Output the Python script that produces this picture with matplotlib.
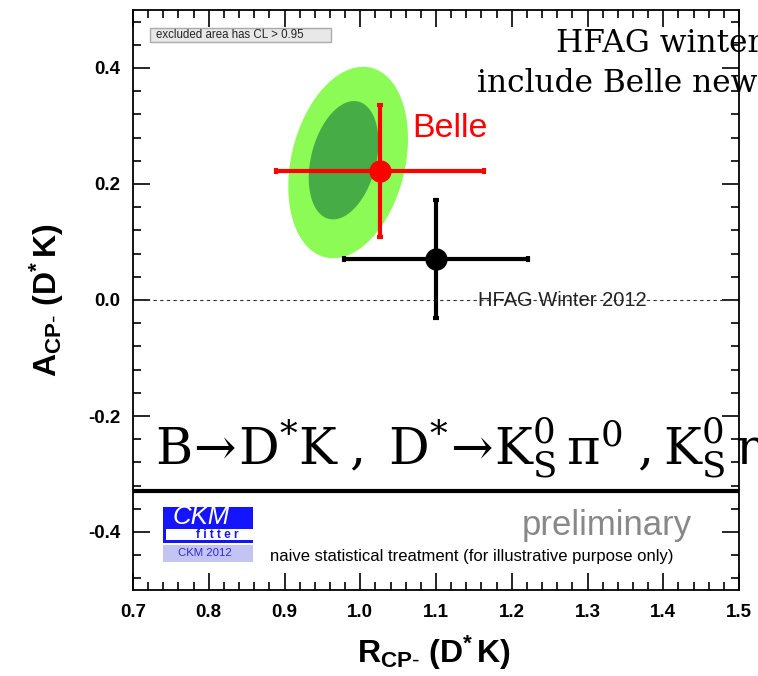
import numpy as np
import matplotlib.pyplot as plt
import matplotlib as mpl
from matplotlib.patches import Rectangle
from matplotlib.ticker import MultipleLocator

mpl.rc('font', family='Liberation Sans')
mpl.rc('axes', unicode_minus=False)
mpl.rc('mathtext', fontset='custom', rm='Liberation Sans',
       bf='Liberation Sans:bold', it='Liberation Sans:italic')

# measurements of R_CP- and A_CP- (symmetric errors)
belle_r, belle_r_err = 1.026, 0.137
belle_a, belle_a_err = 0.223, 0.114
hfag_r, hfag_r_err = 1.100, 0.122
hfag_a, hfag_a_err = 0.071, 0.102

# CL regions (95%, 68%): centre, half widths, correlation
cont_r0 = [0.984, 0.978]
cont_a0 = [0.237, 0.241]
cont_sr = [0.079, 0.046]
cont_sa = [0.165, 0.102]
cont_rho = [0.25, 0.30]
cont_colors = ['#8cfb55', '#46ad46']

sep_a = -0.33

W, H = 758, 676
fig = plt.figure(figsize=(W/100, H/100), dpi=100)
ax = fig.add_axes([133/W, 86/H, 606/W, 580/H])

t = np.linspace(0, 2*np.pi, 300)
for r0, a0, sr, sa, rho, c in zip(cont_r0, cont_a0, cont_sr, cont_sa, cont_rho, cont_colors):
    x = r0 + sr*np.cos(t)
    y = a0 + sa*(rho*np.cos(t) + np.sqrt(1 - rho**2)*np.sin(t))
    ax.fill(x, y, color=c, lw=0, zorder=1)

ax.axhline(0.0, color='#333333', lw=0.8, ls=(0, (3, 3)), zorder=2)
ax.axhline(sep_a, color='black', lw=3, zorder=2)

ax.errorbar(hfag_r, hfag_a, xerr=hfag_r_err, yerr=hfag_a_err, fmt='o', color='black',
            ms=15, elinewidth=3, capsize=2.5, capthick=3, zorder=4)
ax.errorbar(belle_r, belle_a, xerr=belle_r_err, yerr=belle_a_err, fmt='o', color='red',
            ms=15, elinewidth=3, capsize=2.5, capthick=3, zorder=5)

ax.text(1.068, 0.296, 'Belle', color='red', fontsize=24.5, va='center', ha='left', zorder=6)
ax.text(1.1555, 0.0, 'HFAG Winter 2012', color='#222222', fontsize=14.5, va='center',
        ha='left', zorder=6)

ax.set_xlim(0.7, 1.5)
ax.set_ylim(-0.5, 0.5)
ax.xaxis.set_major_locator(MultipleLocator(0.1))
ax.xaxis.set_minor_locator(MultipleLocator(0.02))
ax.yaxis.set_major_locator(MultipleLocator(0.2))
ax.yaxis.set_minor_locator(MultipleLocator(0.04))
ax.xaxis.set_major_formatter(mpl.ticker.FormatStrFormatter('%.1f'))
ax.yaxis.set_major_formatter(mpl.ticker.FormatStrFormatter('%.1f'))
ax.tick_params(which='both', direction='in', top=True, right=True, width=1.2)
ax.tick_params(which='major', length=12, labelsize=13.5)
ax.tick_params(axis='x', which='major', pad=10)
ax.tick_params(axis='y', which='major', pad=9)
ax.tick_params(which='minor', length=6)
for lab in ax.get_xticklabels() + ax.get_yticklabels():
    lab.set_fontweight('bold')
for s in ax.spines.values():
    s.set_linewidth(1.3)

ax.text(0.497, -0.108, r'$\mathbf{R_{CP\text{-}}\ (D^{*}\,K)}$', transform=ax.transAxes,
        fontsize=23, ha='center', va='center')
ax.text(-0.142, 0.5, r'$\mathbf{A_{CP\text{-}}\ (D^{*}\,K)}$', transform=ax.transAxes,
        fontsize=23, ha='center', va='center', rotation=90)

# legend box for the CL convention
ax.add_patch(Rectangle((0.028, 0.9448), 0.2987, 0.0242, transform=ax.transAxes,
                       facecolor='#e8e8e8', edgecolor='#aaaaaa', lw=1, zorder=6))
ax.text(0.038, 0.957, 'excluded area has CL > 0.95', transform=ax.transAxes,
        fontsize=8.3, va='center', ha='left', color='#222222', zorder=7)

ax.text(0.698, 0.9276, 'HFAG winter', transform=ax.transAxes, family='DejaVu Serif',
        fontsize=22.5, va='baseline', ha='left', clip_on=False, zorder=8)
ax.text(0.5677, 0.8586, 'include Belle new', transform=ax.transAxes,
        family='DejaVu Serif', fontsize=22.5, va='baseline', ha='left', clip_on=False, zorder=8)

ax.text(0.0363, 0.2172,
        r'$\mathrm{B}\!\rightarrow\!\mathrm{D}^{*}\mathrm{K}\;,\;\mathrm{D}^{*}\!\rightarrow\!'
        r'\mathrm{K}^{0}_{\mathrm{S}}\,\mathrm{π}^{0}\;,\mathrm{K}^{0}_{\mathrm{S}}\,\mathrm{η}$',
        transform=ax.transAxes, math_fontfamily='dejavuserif', fontsize=36.5,
        va='baseline', ha='left', clip_on=False, zorder=8)

ax.text(0.642, 0.112, 'preliminary', transform=ax.transAxes, fontsize=25,
        color='#888888', va='center', ha='left')
ax.text(0.226, 0.0586, 'naive statistical treatment (for illustrative purpose only)',
        transform=ax.transAxes, fontsize=12, va='center', ha='left')

# CKMfitter logo
ax.add_patch(Rectangle((0.0495, 0.081), 0.1485, 0.062, transform=ax.transAxes,
                       facecolor='#1414ff', lw=0, zorder=6))
ax.add_patch(Rectangle((0.0545, 0.0862), 0.1435, 0.0188, transform=ax.transAxes,
                       facecolor='white', lw=0, zorder=7))
ax.add_patch(Rectangle((0.0495, 0.0483), 0.1485, 0.0293, transform=ax.transAxes,
                       facecolor='#c4c4f2', lw=0, zorder=6))
ax.text(0.112, 0.1255, 'CKM', transform=ax.transAxes, fontsize=18.5, style='italic',
        color='white', ha='center', va='center', zorder=8)
ax.text(0.1386, 0.0948, 'f i t t e r', transform=ax.transAxes, fontsize=8.5,
        fontweight='bold', color='#1414ff', ha='center', va='center', zorder=8)
ax.text(0.1188, 0.0638, 'CKM 2012', transform=ax.transAxes, fontsize=8.2,
        color='#2b2bd0', ha='center', va='center', zorder=8)

fig.savefig('out.png', dpi=100)
